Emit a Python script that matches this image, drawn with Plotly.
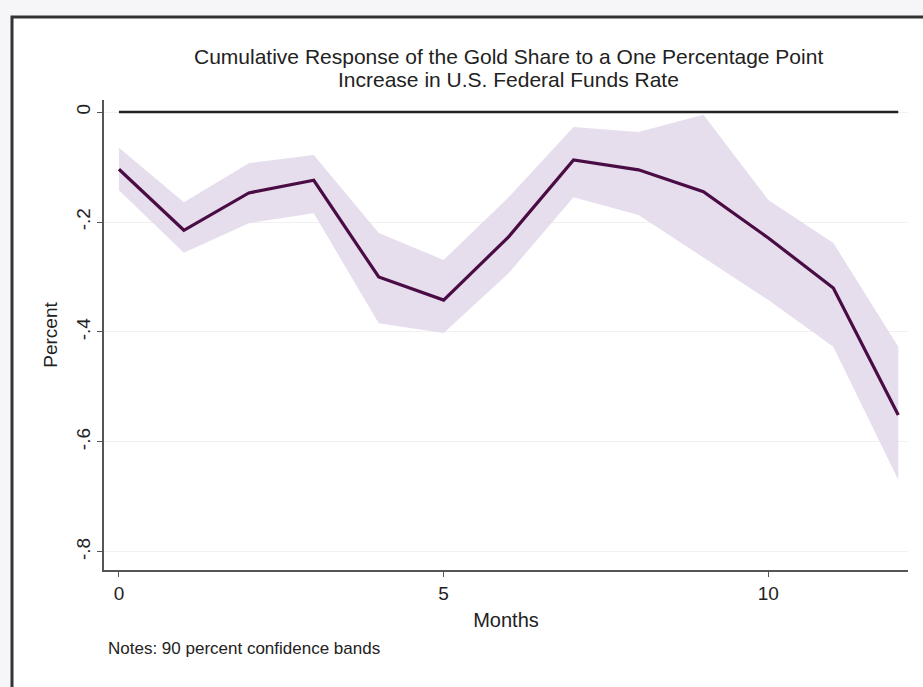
import plotly.graph_objects as go

# Impulse response of the gold share, months 0-12
months = [0, 1, 2, 3, 4, 5, 6, 7, 8, 9, 10, 11, 12]
response = [-0.104, -0.215, -0.147, -0.124, -0.300, -0.342, -0.227,
            -0.087, -0.105, -0.145, -0.229, -0.320, -0.551]
upper_band = [-0.065, -0.164, -0.093, -0.078, -0.220, -0.269, -0.155,
              -0.027, -0.036, -0.005, -0.160, -0.238, -0.427]
lower_band = [-0.142, -0.256, -0.202, -0.184, -0.384, -0.402, -0.293,
              -0.155, -0.187, -0.265, -0.342, -0.427, -0.669]
zero_line = [0] * len(months)

y_ticks = [0, -0.2, -0.4, -0.6, -0.8]
y_tick_labels = ["0", "-.2", "-.4", "-.6", "-.8"]
x_ticks = [0, 5, 10]
x_tick_labels = ["0", "5", "10"]

title_lines = ["Cumulative Response of the Gold Share to a One Percentage Point",
               "Increase in U.S. Federal Funds Rate"]

FONT = "Liberation Sans, Arial, Helvetica, sans-serif"
INK = "#222222"

W, H = 923, 687
L, R, T, B = 104, 15, 100, 117
PW, PH = W - L - R, H - T - B


def px_x(px):
    return (px - L) / PW


def px_y(py):
    return (H - B - py) / PH


fig = go.Figure()

# 90% confidence band
fig.add_trace(go.Scatter(x=months, y=upper_band, mode="lines",
                         line=dict(width=0), hoverinfo="skip", showlegend=False))
fig.add_trace(go.Scatter(x=months, y=lower_band, mode="lines",
                         line=dict(width=0), fill="tonexty",
                         fillcolor="rgba(226,215,234,0.85)",
                         hoverinfo="skip", showlegend=False))

# reference line at zero
fig.add_trace(go.Scatter(x=months, y=zero_line, mode="lines",
                         line=dict(color=INK, width=2.5), showlegend=False))

# point estimate
fig.add_trace(go.Scatter(x=months, y=response, mode="lines",
                         line=dict(color="#4a0c44", width=3.2), showlegend=False))

# two-line title, each line placed on its own
title_notes = [
    dict(text=line, xref="paper", yref="paper", x=px_x(509), y=px_y(py),
         xanchor="center", yanchor="middle", showarrow=False,
         font=dict(size=21, family=FONT, color=INK))
    for line, py in zip(title_lines, [57, 80])
]

fig.update_layout(
    width=W, height=H,
    margin=dict(l=L, r=R, t=T, b=B),
    paper_bgcolor="#f6f6f8", plot_bgcolor="white",
    font=dict(family=FONT, color=INK, size=18),
    xaxis=dict(
        range=[-0.23, 12.15], tickvals=x_ticks, ticktext=x_tick_labels,
        showgrid=False, zeroline=False, showline=True, linecolor="#555",
        linewidth=1.5, ticks="outside", ticklen=5, tickcolor="#555",
        tickfont=dict(size=19),
        title=dict(text="Months", font=dict(size=20), standoff=10),
    ),
    yaxis=dict(
        range=[-0.833, 0.022], tickvals=y_ticks, ticktext=y_tick_labels,
        showgrid=True, gridcolor="#f1f1f1", gridwidth=1, zeroline=False,
        showline=True, linecolor="#555", linewidth=1.5, ticks="outside",
        ticklen=5, tickcolor="#555", tickangle=-90, tickfont=dict(size=19),
        title=dict(text="Percent", font=dict(size=19), standoff=10),
    ),
    shapes=[
        # outer border of the graph region
        dict(type="rect", xref="paper", yref="paper",
             x0=px_x(12), x1=px_x(W + 20), y0=px_y(H + 20), y1=px_y(17),
             line=dict(color="#333", width=3), fillcolor="white",
             layer="below"),
    ],
    annotations=title_notes + [
        dict(text="Notes: 90 percent confidence bands", xref="paper", yref="paper",
             x=px_x(106), y=px_y(648), xanchor="left", yanchor="middle",
             showarrow=False, font=dict(size=17, family=FONT, color=INK)),
    ],
)

fig.write_html("out.html")
